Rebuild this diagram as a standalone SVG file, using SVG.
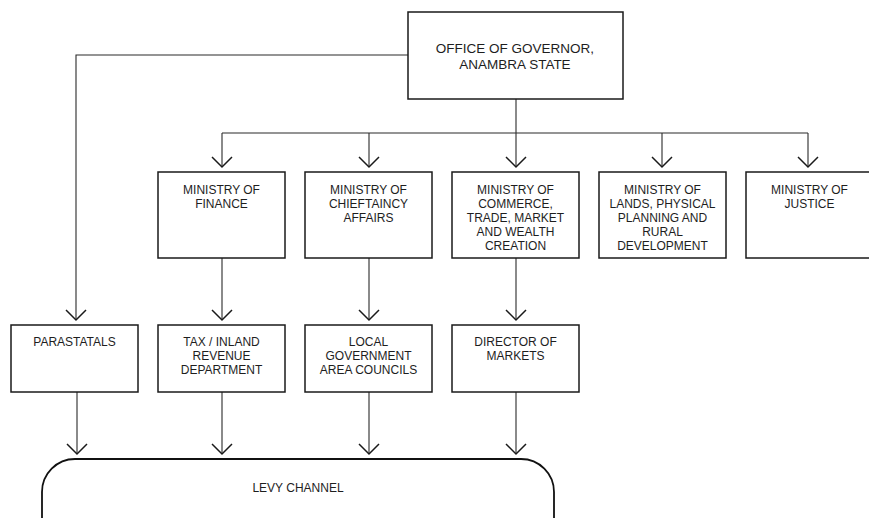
<svg xmlns="http://www.w3.org/2000/svg" width="869" height="518" viewBox="0 0 869 518">
<style>
.box{fill:#fff;stroke:#1a1a1a;stroke-width:1.5}
.lbl{font-family:"Liberation Sans",Arial,Helvetica,sans-serif;font-size:12px;fill:#1e1e1e;text-anchor:middle}
.big{font-size:13.5px}
.con{fill:none;stroke:#2a2a2a;stroke-width:1.1}
</style>
<defs>
<marker id="chev" markerUnits="userSpaceOnUse" markerWidth="24" markerHeight="24" viewBox="-12 -12 24 24" refX="0" refY="0" orient="auto">
<path d="M-10,-10 L0,0 L-10,10" fill="none" stroke="#1a1a1a" stroke-width="1.5"/>
</marker>
</defs>
<rect width="869" height="518" fill="#fff"/>
<g id="connectors">
<path class="con" d="M408,55 H76 V320" marker-end="url(#chev)"/>
<path class="con" d="M516,99 V133"/>
<path class="con" d="M222,133 H808"/>
<path class="con" d="M222,133 V167" marker-end="url(#chev)"/>
<path class="con" d="M369,133 V167" marker-end="url(#chev)"/>
<path class="con" d="M516,133 V167" marker-end="url(#chev)"/>
<path class="con" d="M662,133 V167" marker-end="url(#chev)"/>
<path class="con" d="M808,133 V167" marker-end="url(#chev)"/>
<path class="con" d="M222,258 V320" marker-end="url(#chev)"/>
<path class="con" d="M369,258 V320" marker-end="url(#chev)"/>
<path class="con" d="M516,258 V320" marker-end="url(#chev)"/>
<path class="con" d="M77,392 V454" marker-end="url(#chev)"/>
<path class="con" d="M222,392 V454" marker-end="url(#chev)"/>
<path class="con" d="M369,392 V454" marker-end="url(#chev)"/>
<path class="con" d="M516,392 V454" marker-end="url(#chev)"/>
</g>
<g id="governor">
<rect class="box" x="408" y="12" width="215" height="87"/>
<text class="lbl big" x="515" y="53">OFFICE OF GOVERNOR,</text>
<text class="lbl big" x="515" y="69">ANAMBRA STATE</text>
</g>
<g id="finance">
<rect class="box" x="158" y="172" width="127" height="86"/>
<text class="lbl" x="221.5" y="194">MINISTRY OF</text>
<text class="lbl" x="221.5" y="208">FINANCE</text>
</g>
<g id="chieftaincy">
<rect class="box" x="305" y="172" width="127" height="86"/>
<text class="lbl" x="368.5" y="194">MINISTRY OF</text>
<text class="lbl" x="368.5" y="208">CHIEFTAINCY</text>
<text class="lbl" x="368.5" y="222">AFFAIRS</text>
</g>
<g id="commerce">
<rect class="box" x="452" y="172" width="127" height="86"/>
<text class="lbl" x="515.5" y="194">MINISTRY OF</text>
<text class="lbl" x="515.5" y="208">COMMERCE,</text>
<text class="lbl" x="515.5" y="222">TRADE, MARKET</text>
<text class="lbl" x="515.5" y="236">AND WEALTH</text>
<text class="lbl" x="515.5" y="250">CREATION</text>
</g>
<g id="lands">
<rect class="box" x="599" y="172" width="127" height="86"/>
<text class="lbl" x="662.5" y="194">MINISTRY OF</text>
<text class="lbl" x="662.5" y="208">LANDS, PHYSICAL</text>
<text class="lbl" x="662.5" y="222">PLANNING AND</text>
<text class="lbl" x="662.5" y="236">RURAL</text>
<text class="lbl" x="662.5" y="250">DEVELOPMENT</text>
</g>
<g id="justice">
<rect class="box" x="746" y="172" width="127" height="86"/>
<text class="lbl" x="809.5" y="194">MINISTRY OF</text>
<text class="lbl" x="809.5" y="208">JUSTICE</text>
</g>
<g id="parastatals">
<rect class="box" x="11" y="325" width="127" height="67"/>
<text class="lbl" x="74.5" y="346">PARASTATALS</text>
</g>
<g id="tax">
<rect class="box" x="158" y="325" width="127" height="67"/>
<text class="lbl" x="221.5" y="346">TAX / INLAND</text>
<text class="lbl" x="221.5" y="360">REVENUE</text>
<text class="lbl" x="221.5" y="374">DEPARTMENT</text>
</g>
<g id="lga">
<rect class="box" x="305" y="325" width="127" height="67"/>
<text class="lbl" x="368.5" y="346">LOCAL</text>
<text class="lbl" x="368.5" y="360">GOVERNMENT</text>
<text class="lbl" x="368.5" y="374">AREA COUNCILS</text>
</g>
<g id="markets">
<rect class="box" x="452" y="325" width="127" height="67"/>
<text class="lbl" x="515.5" y="346">DIRECTOR OF</text>
<text class="lbl" x="515.5" y="360">MARKETS</text>
</g>
<g id="levy">
<rect x="42" y="459" width="512" height="120" rx="33" ry="33" fill="none" stroke="#111" stroke-width="1.8"/>
<text class="lbl" x="298" y="492">LEVY CHANNEL</text>
</g>
</svg>
